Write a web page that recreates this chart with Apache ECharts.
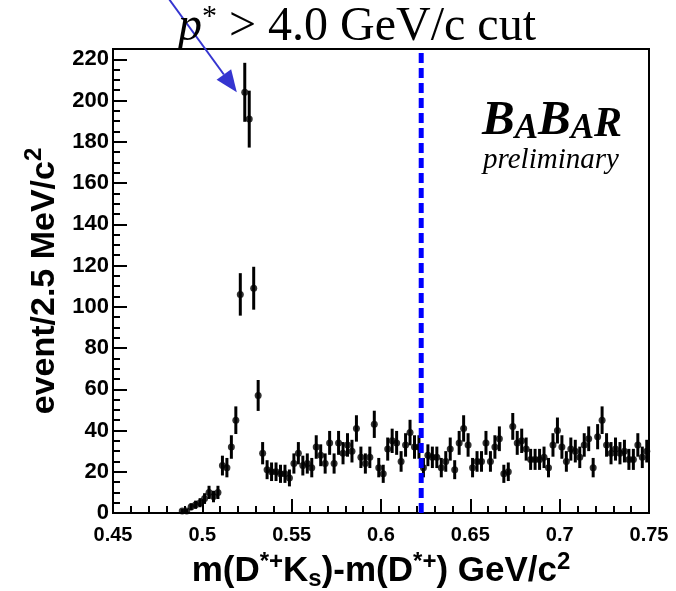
<!DOCTYPE html>
<html><head><meta charset="utf-8">
<script src="https://cdn.jsdelivr.net/npm/echarts@6/dist/echarts.min.js"></script>
<style>html,body{margin:0;padding:0;background:#fff}#c{width:676px;height:591px}</style>
</head><body><div id="c"></div>
<script>
// histogram: first filled bin low edge and bin width (GeV/c^2)
const firstBinLow = 0.4875;
const binWidth = 0.0025;
const counts = [1,1,3,4,5,7,10,8,10,23,22,32,45,106,204,191,109,57,29,21,20,20,19,19,17,24,29,23,24,22,32,28,24,34,24,34,29,33,30,41,27,24,27,43,22,19,31,35,34,25,33,39,32,32,22,28,27,27,22,25,31,21,34,41,33,22,25,25,34,25,32,36,19,20,42,34,35,31,26,26,26,27,22,33,40,32,25,31,30,27,33,36,22,37,45,33,29,31,29,30,26,26,33,27,30];
const errors = [1,1,1.7,2,2.2,2.6,3.2,2.8,3.2,4.8,4.7,5.7,6.7,10.3,14.3,13.8,10.4,7.5,5.4,4.6,4.5,4.5,4.4,4.4,4.1,4.9,5.4,4.8,4.9,4.7,5.7,5.3,4.9,5.8,4.9,5.8,5.4,5.7,5.5,6.4,5.2,4.9,5.2,6.6,4.7,4.4,5.6,5.9,5.8,5,5.7,6.2,5.7,5.7,4.7,5.3,5.2,5.2,4.7,5,5.6,4.6,5.8,6.4,5.7,4.7,5,5,5.8,5,5.7,6,4.4,4.5,6.5,5.8,5.9,5.6,5.1,5.1,5.1,5.2,4.7,5.7,6.3,5.7,5,5.6,5.5,5.2,5.7,6,4.7,6.1,6.7,5.7,5.4,5.6,5.4,5.5,5.1,5.1,5.7,5.2,5.5];
const xTickLabels = ['0.45','0.5','0.55','0.6','0.65','0.7','0.75'];
const yTickLabels = ['0','20','40','60','80','100','120','140','160','180','200','220'];
const cutValue = 0.6225;
const arrowFrom = [0.4815, 249];
const arrowTo = [0.5193, 204];

const pts = counts.map((c, k) => [firstBinLow + binWidth * (k + 0.5), c, errors[k]]);

const chart = echarts.init(document.getElementById('c'), null, {renderer: 'canvas'});
const SANS = 'Liberation Sans';
const SERIF = 'Liberation Serif';

chart.setOption({
  animation: false,
  backgroundColor: '#fff',
  grid: {left: 113, right: 27, top: 49, bottom: 78, show: true, borderColor: '#000', borderWidth: 2,
         containLabel: false, outerBoundsMode: 'none'},
  xAxis: {
    type: 'value', min: 0.45, max: 0.75, interval: 0.05,
    name: 'm(D{sup|*+}K{sub|s})-m(D{sup|*+}) GeV/c{sup|2}',
    nameLocation: 'middle', nameGap: 34,
    nameTextStyle: {fontFamily: SANS, fontWeight: 'bold', fontSize: 35, color: '#000',
      rich: {sup: {fontFamily: SANS, fontWeight: 'bold', fontSize: 24, color: '#000', padding: [0,0,18,0]},
             sub: {fontFamily: SANS, fontWeight: 'bold', fontSize: 24, color: '#000', padding: [16,0,0,0]}}},
    axisLine: {lineStyle: {color: '#000', width: 2}},
    axisTick: {inside: true, length: 14, lineStyle: {color: '#000', width: 2}},
    minorTick: {show: true, splitNumber: 5, length: 7, lineStyle: {color: '#000', width: 2}},
    splitLine: {show: false},
    axisLabel: {margin: 12, fontFamily: SANS, fontWeight: 'bold', fontSize: 20, color: '#000',
      formatter: v => { const s = xTickLabels.find(t => Math.abs(parseFloat(t) - v) < 1e-6); return s || ''; }}
  },
  yAxis: {
    type: 'value', min: 0, max: 225, interval: 20,
    name: 'event/2.5 MeV/c{sup|2}',
    nameLocation: 'middle', nameGap: 45, nameRotate: 90,
    nameTextStyle: {fontFamily: SANS, fontWeight: 'bold', fontSize: 34, color: '#000',
      rich: {sup: {fontFamily: SANS, fontWeight: 'bold', fontSize: 24, color: '#000', padding: [0,0,20,0]}}},
    axisLine: {lineStyle: {color: '#000', width: 2}},
    axisTick: {inside: true, length: 14, lineStyle: {color: '#000', width: 2}},
    minorTick: {show: true, splitNumber: 4, length: 7, lineStyle: {color: '#000', width: 2}},
    splitLine: {show: false},
    axisLabel: {margin: 4, fontFamily: SANS, fontWeight: 'bold', fontSize: 22, color: '#000', showMaxLabel: false,
      formatter: v => { const s = yTickLabels.find(t => Math.abs(parseFloat(t) - v) < 1e-6); return s || ''; }}
  },
  graphic: [
    {type: 'text', left: 178, top: 2, z: 10, style: {
      text: '{it|p}{sup|*} > 4.0 GeV/c cut',
      font: '48px "Liberation Serif"', fill: '#000',
      rich: {it: {fontFamily: SERIF, fontStyle: 'italic', fontSize: 48, fill: '#000'},
             sup: {fontFamily: SERIF, fontSize: 30, fill: '#000', padding: [0,0,20,0]}}}},
    {type: 'text', left: 482, top: 97, z: 10, style: {
      text: '{b|B}{a|A}{b|B}{a|A}{r|R}',
      rich: {b: {fontFamily: SERIF, fontStyle: 'italic', fontWeight: 'bold', fontSize: 49, fill: '#000', lineHeight: 50, verticalAlign: 'bottom'},
             a: {fontFamily: SERIF, fontStyle: 'italic', fontWeight: 'bold', fontSize: 35, fill: '#000', lineHeight: 50, verticalAlign: 'bottom'},
             r: {fontFamily: SERIF, fontStyle: 'italic', fontWeight: 'bold', fontSize: 42, fill: '#000', lineHeight: 50, verticalAlign: 'bottom'}}}},
    {type: 'text', left: 483, top: 146, z: 10, style: {
      text: 'preliminary', font: 'italic 29px "Liberation Serif"', fill: '#000'}}
  ],
  series: [
    {type: 'custom', name: 'errors', z: 3, data: pts,
      renderItem: (params, api) => {
        const x = api.value(0), y = api.value(1), e = api.value(2);
        const a = api.coord([x, y + e]), b = api.coord([x, y - e]);
        return {type: 'line', shape: {x1: a[0], y1: a[1], x2: b[0], y2: b[1]}, style: {stroke: '#000', lineWidth: 3}};
      }},
    {type: 'scatter', name: 'counts', z: 4, data: pts.map(p => [p[0], p[1]]), symbol: 'circle', symbolSize: 7,
      itemStyle: {color: '#000'}},
    {type: 'line', name: 'cut', z: 6, data: [[cutValue, 0], [cutValue, 225]], symbol: 'none',
      lineStyle: {color: '#0000ff', width: 5, type: [10, 5]}},
    {type: 'custom', name: 'arrow', z: 7, clip: false, data: [[arrowFrom[0], arrowFrom[1], arrowTo[0], arrowTo[1]]],
      renderItem: (params, api) => {
        const p0 = api.coord([api.value(0), api.value(1)]);
        const p1 = api.coord([api.value(2), api.value(3)]);
        const dx = p1[0] - p0[0], dy = p1[1] - p0[1], L = Math.hypot(dx, dy);
        const ux = dx / L, uy = dy / L, hl = 22, hw = 9;
        const bx = p1[0] - ux * hl, by = p1[1] - uy * hl;
        return {type: 'group', children: [
          {type: 'line', shape: {x1: p0[0], y1: p0[1], x2: bx, y2: by}, style: {stroke: '#3535d0', lineWidth: 2}},
          {type: 'polygon', shape: {points: [[p1[0], p1[1]], [bx - uy * hw, by + ux * hw], [bx + uy * hw, by - ux * hw]]},
            style: {fill: '#3535d0'}}
        ]};
      }}
  ]
});
</script></body></html>
